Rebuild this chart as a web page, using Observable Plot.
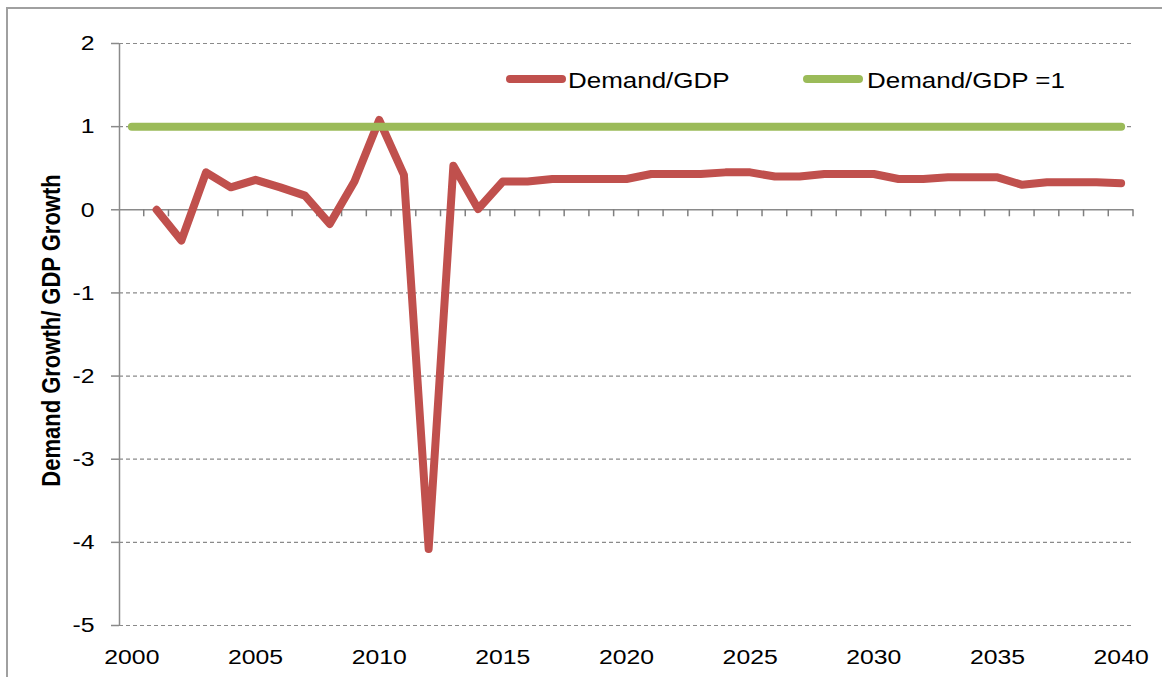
<!DOCTYPE html>
<html>
<head>
<meta charset="utf-8">
<script src="https://cdn.jsdelivr.net/npm/d3@7"></script>
<script src="https://cdn.jsdelivr.net/npm/@observablehq/plot@0.6"></script>
<style>
  html, body { margin: 0; padding: 0; background: #fff; }
  #wrap { position: relative; width: 1162px; height: 677px; overflow: hidden; font-family: "Liberation Sans", Arial, sans-serif; }
  #frame { position: absolute; left: 6px; top: 7px; width: 1300px; height: 800px; border: 2px solid #a0a0a0; box-sizing: border-box; }
  #chart { position: absolute; left: 0; top: 0; }
  .sw { position: absolute; height: 8px; border-radius: 4px; }
  .lt { position: absolute; font-size: 22px; line-height: 22px; color: #000; white-space: nowrap; transform: scaleX(1.18); transform-origin: left center; }
</style>
</head>
<body>
<div id="wrap">
  <div id="frame"></div>
  <div id="chart"></div>
  <div class="sw" style="left:506px;top:75px;width:60px;background:#C0504D"></div>
  <div class="lt" style="left:568px;top:70px">Demand/GDP</div>
  <div class="sw" style="left:803px;top:75px;width:60px;background:#9BBB59"></div>
  <div class="lt" style="left:867px;top:70px">Demand/GDP =1</div>
</div>
<script>
const years = [2000,2001,2002,2003,2004,2005,2006,2007,2008,2009,2010,2011,2012,2013,2014,2015,2016,2017,2018,2019,2020,2021,2022,2023,2024,2025,2026,2027,2028,2029,2030,2031,2032,2033,2034,2035,2036,2037,2038,2039,2040];
const demandGdp = [null,0.00,-0.37,0.45,0.27,0.36,0.27,0.17,-0.17,0.34,1.08,0.42,-4.08,0.53,0.01,0.34,0.34,0.37,0.37,0.37,0.37,0.43,0.43,0.43,0.45,0.45,0.40,0.40,0.43,0.43,0.43,0.37,0.37,0.39,0.39,0.39,0.30,0.33,0.33,0.33,0.32];
const demandGdpOne = [1,1,1,1,1,1,1,1,1,1,1,1,1,1,1,1,1,1,1,1,1,1,1,1,1,1,1,1,1,1,1,1,1,1,1,1,1,1,1,1,1];
const xTickLabels = [2000,2005,2010,2015,2020,2025,2030,2035,2040];
const yTicks = [-5,-4,-3,-2,-1,0,1,2];
const yLabel = "Demand Growth/ GDP Growth";
const seriesNames = ["Demand/GDP", "Demand/GDP =1"];

const redData = years.map((y, i) => ({year: y, value: demandGdp[i]})).filter(d => d.value != null);
const greenData = years.map((y, i) => ({year: y, value: demandGdpOne[i]}));
const boundaries = years.map(y => y + 0.5);

const plot = Plot.plot({
  width: 1162,
  height: 677,
  marginLeft: 119,
  marginRight: 29,
  marginTop: 43,
  marginBottom: 52,
  style: {fontFamily: "'Liberation Sans', Arial, sans-serif", fontSize: "21px", color: "#000", background: "transparent", overflow: "visible"},
  x: {domain: [years[0] - 0.5, years[years.length - 1] + 0.5]},
  y: {domain: [-5, 2]},
  marks: [
    Plot.ruleY(yTicks.filter(d => d !== 0), {stroke: "#8a8a8a", strokeWidth: 1.2, strokeDasharray: "4,3"}),
    Plot.ruleY([0], {stroke: "#8a8a8a", strokeWidth: 1.5}),
    Plot.ruleX([years[0] - 0.5], {stroke: "#8a8a8a", strokeWidth: 1.5}),
    Plot.axisY({ticks: yTicks, tickSize: 8, tickPadding: 17, stroke: "#8a8a8a", strokeWidth: 1.5, fill: "#000", label: null, tickFormat: d => String(d)}),
    Plot.axisX({ticks: xTickLabels, tickSize: 0, tickPadding: 24, fill: "#000", label: null, tickFormat: d => String(d)}),
    Plot.line(redData, {x: "year", y: "value", stroke: "#C0504D", strokeWidth: 8, strokeLinecap: "round", strokeLinejoin: "round"}),
    Plot.line(greenData, {x: "year", y: "value", stroke: "#9BBB59", strokeWidth: 8, strokeLinecap: "round", strokeLinejoin: "round"}),
    Plot.text([yLabel], {frameAnchor: "left", text: d => d, rotate: -90, textAnchor: "middle", dx: -68, dy: -4, fontSize: 22, fontWeight: "bold", fill: "#000"})
  ]
});

// category boundary tick marks hanging below the zero line, positioned with Plot's own scales
const sx = plot.scale("x"), sy = plot.scale("y");
const y0 = sy.apply(0);
const tg = d3.select(plot).insert("g", "g[aria-label='line']").attr("stroke", "#7f7f7f").attr("stroke-width", 1.5);
boundaries.forEach(b => {
  const x = sx.apply(b);
  tg.append("line").attr("x1", x).attr("x2", x).attr("y1", y0).attr("y2", y0 + 7);
});

plot.querySelectorAll("text").forEach(t => {
  const tr = t.getAttribute("transform");
  if (t.textContent === yLabel) {
    t.setAttribute("transform", (tr || "") + " scale(1,1.18)");
  } else if (tr) {
    t.setAttribute("transform", tr + " scale(1.18,1)");
  }
});

document.getElementById("chart").appendChild(plot);
</script>
</body>
</html>
